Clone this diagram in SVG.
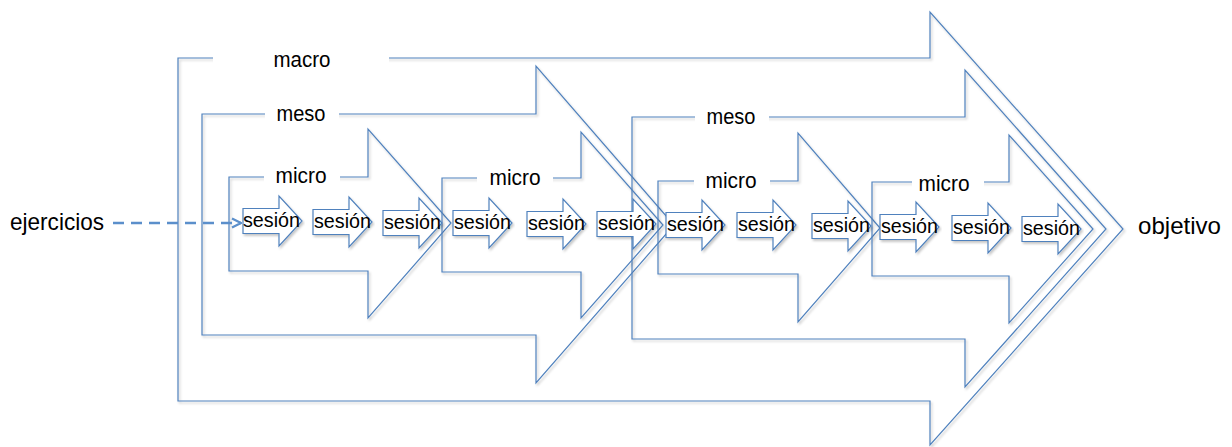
<svg xmlns="http://www.w3.org/2000/svg" width="1232" height="447" viewBox="0 0 1232 447">
  <style>
    .big { fill: none; stroke: #4F81BD; stroke-width: 1.2; filter: url(#shade); }
    .ses { fill: #ffffff; stroke: #4F81BD; stroke-width: 1.2; filter: url(#shade); }
    .lblbox { fill: #ffffff; }
    .lbl { font-family: "Liberation Sans", Arial, sans-serif; font-size: 21.5px; fill: #000; text-anchor: middle; }
    .st { font-family: "Liberation Sans", Arial, sans-serif; font-size: 21px; fill: #000; }
    .end { font-family: "Liberation Sans", Arial, sans-serif; font-size: 24px; fill: #000; }
    .flow { fill: none; stroke: #5B8FCB; stroke-width: 2.5; stroke-dasharray: 11 7; }
  </style>
  <defs>
    <filter id="shade" x="-5%" y="-5%" width="110%" height="115%">
      <feDropShadow dx="1.5" dy="2" stdDeviation="1" flood-color="#000" flood-opacity="0.22"/>
    </filter>
    <marker id="open" viewBox="0 0 10 10" refX="9" refY="5" markerWidth="4.5" markerHeight="4.5" orient="auto" markerUnits="strokeWidth">
      <path d="M1,1 L9,5 L1,9" fill="none" stroke="#5B8FCB" stroke-width="2"/>
    </marker>
  </defs>

  <rect width="1232" height="447" fill="#ffffff"/>

  <!-- outer phase: macro -->
  <g id="macro">
    <path class="big" d="M178,58 H930 V12 L1123,229 L930,445 V401 H178 Z"/>
    <rect class="lblbox" x="213" y="47" width="176" height="22"/>
    <text class="lbl" x="302" y="67" textLength="57" lengthAdjust="spacingAndGlyphs">macro</text>
  </g>

  <!-- middle phases: meso -->
  <g id="meso1">
    <path class="big" d="M202,114 H536 V66 L674,225 L536,383 V335 H202 Z"/>
    <rect class="lblbox" x="265" y="103" width="74" height="22"/>
    <text class="lbl" x="301" y="121" textLength="49" lengthAdjust="spacingAndGlyphs">meso</text>
  </g>
  <g id="meso2">
    <path class="big" d="M632,117 H965 V70 L1106,229 L965,387 V339 H632 Z"/>
    <rect class="lblbox" x="695" y="106" width="74" height="22"/>
    <text class="lbl" x="731" y="124" textLength="49" lengthAdjust="spacingAndGlyphs">meso</text>
  </g>

  <!-- inner phases: micro -->
  <g id="micro1">
    <path class="big" d="M229,177 H368 V129 L451,223 L368,318 V271 H229 Z"/>
    <rect class="lblbox" x="264" y="166" width="76" height="22"/>
    <text class="lbl" x="301" y="183" textLength="51" lengthAdjust="spacingAndGlyphs">micro</text>
  </g>
  <g id="micro2">
    <path class="big" d="M442,178 H581 V132 L663,225 L581,318 V272 H442 Z"/>
    <rect class="lblbox" x="477" y="167" width="76" height="22"/>
    <text class="lbl" x="515" y="185" textLength="51" lengthAdjust="spacingAndGlyphs">micro</text>
  </g>
  <g id="micro3">
    <path class="big" d="M658,181 H798 V133 L880,228 L798,322 V274 H658 Z"/>
    <rect class="lblbox" x="694" y="170" width="76" height="22"/>
    <text class="lbl" x="731" y="188" textLength="51" lengthAdjust="spacingAndGlyphs">micro</text>
  </g>
  <g id="micro4">
    <path class="big" d="M872,182 H1009 V135 L1093,229 L1009,323 V276 H872 Z"/>
    <rect class="lblbox" x="912" y="171" width="72" height="22"/>
    <text class="lbl" x="944" y="191" textLength="51" lengthAdjust="spacingAndGlyphs">micro</text>
  </g>

  <!-- sessions -->
  <g id="s1"><path class="ses" d="M243,208.5 h36 v-12.5 l23,25 l-23,25 v-12.5 h-36 Z"/><text class="st" x="243" y="226.5" textLength="57" lengthAdjust="spacingAndGlyphs">sesión</text></g>
  <g id="s2"><path class="ses" d="M313,209.5 h36 v-12.5 l23,25 l-23,25 v-12.5 h-36 Z"/><text class="st" x="314" y="227.5" textLength="57" lengthAdjust="spacingAndGlyphs">sesión</text></g>
  <g id="s3"><path class="ses" d="M383,210.5 h36 v-12.5 l23,25 l-23,25 v-12.5 h-36 Z"/><text class="st" x="384" y="228.5" textLength="57" lengthAdjust="spacingAndGlyphs">sesión</text></g>
  <g id="s4"><path class="ses" d="M453,210.5 h36 v-12.5 l23,25 l-23,25 v-12.5 h-36 Z"/><text class="st" x="454" y="228.5" textLength="57" lengthAdjust="spacingAndGlyphs">sesión</text></g>
  <g id="s5"><path class="ses" d="M527,211.5 h36 v-12.5 l23,25 l-23,25 v-12.5 h-36 Z"/><text class="st" x="528" y="229.5" textLength="57" lengthAdjust="spacingAndGlyphs">sesión</text></g>
  <g id="s6"><path class="ses" d="M597,211.5 h36 v-12.5 l23,25 l-23,25 v-12.5 h-36 Z"/><text class="st" x="598" y="229.5" textLength="57" lengthAdjust="spacingAndGlyphs">sesión</text></g>
  <g id="s7"><path class="ses" d="M666,212.5 h36 v-12.5 l23,25 l-23,25 v-12.5 h-36 Z"/><text class="st" x="667" y="230.5" textLength="57" lengthAdjust="spacingAndGlyphs">sesión</text></g>
  <g id="s8"><path class="ses" d="M737,212.5 h36 v-12.5 l23,25 l-23,25 v-12.5 h-36 Z"/><text class="st" x="738" y="230.5" textLength="57" lengthAdjust="spacingAndGlyphs">sesión</text></g>
  <g id="s9"><path class="ses" d="M812,213.5 h36 v-12.5 l23,25 l-23,25 v-12.5 h-36 Z"/><text class="st" x="813" y="231.5" textLength="57" lengthAdjust="spacingAndGlyphs">sesión</text></g>
  <g id="s10"><path class="ses" d="M880,214.5 h36 v-12.5 l23,25 l-23,25 v-12.5 h-36 Z"/><text class="st" x="881" y="232.5" textLength="57" lengthAdjust="spacingAndGlyphs">sesión</text></g>
  <g id="s11"><path class="ses" d="M952,215.5 h36 v-12.5 l23,25 l-23,25 v-12.5 h-36 Z"/><text class="st" x="953" y="233.5" textLength="57" lengthAdjust="spacingAndGlyphs">sesión</text></g>
  <g id="s12"><path class="ses" d="M1022,216.5 h36 v-12.5 l23,25 l-23,25 v-12.5 h-36 Z"/><text class="st" x="1023" y="234.5" textLength="57" lengthAdjust="spacingAndGlyphs">sesión</text></g>

  <!-- start and goal -->
  <g id="ejercicios"><text class="end" x="10" y="230" textLength="94" lengthAdjust="spacingAndGlyphs">ejercicios</text></g>
  <g id="objetivo"><text class="end" x="1138" y="234" textLength="83" lengthAdjust="spacingAndGlyphs">objetivo</text></g>

  <!-- connectors -->
  <g id="connectors">
    <path class="flow" d="M113,223 H241" marker-end="url(#open)"/>
  </g>
</svg>
